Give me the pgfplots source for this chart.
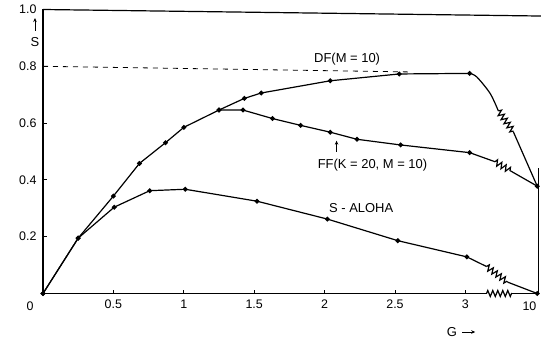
\documentclass[border=0pt]{standalone}
\usepackage{pgfplots}
\pgfplotsset{compat=1.18}
\usepackage{fontspec}
\setmainfont{Liberation Sans}
\usetikzlibrary{decorations.pathmorphing,arrows.meta}
\begin{document}
\begin{tikzpicture}
\begin{axis}[
  scale only axis, width=492.8bp, height=284bp,
  xmin=0, xmax=3.5, ymin=0, ymax=1,
  clip=false,
  axis lines*=left,
  x axis line style={draw=none},
  axis line style={line width=1.2bp},
  tick align=inside, major tick length=4bp,
  tick style={line width=0.9bp, black},
  xtick={0.5,1,1.5,2,2.5,3},
  xticklabels={0.5,1,1.5,2,2.5,3},
  ytick={0.2,0.4,0.6,0.8,1.0},
  yticklabels={0.2,0.4,0.6,0.8,1.0},
  /pgf/number format/assume math mode=true,
  ticklabel style={font=\fontsize{12.5}{14}\selectfont},
  xticklabel style={yshift=-3bp},
  yticklabel style={xshift=-3bp},
  every axis plot/.append style={black, line width=1.2bp},
]
% frame pieces
\addplot[no marks] coordinates {(0,1) (3.537,0.977)};
\addplot[no marks] coordinates {(3.52,0) (3.52,0.442)};
% x axis with break
\addplot[no marks] coordinates {(0,0) (3.15,0)};
\addplot[no marks, decorate, decoration={zigzag, amplitude=3bp, segment length=5bp}] coordinates {(3.15,0) (3.33,0)};
\addplot[no marks] coordinates {(3.33,0) (3.52,0)};
% asymptote
\addplot[no marks, line width=0.8bp, dash pattern=on 5bp off 5bp] coordinates {(0,0.8) (2.62,0.78)};
% DF (M=10)
\addplot[mark=*, mark size=1.8bp] coordinates {
 (0,0) (0.25,0.195) (0.5,0.343) (0.685,0.458) (0.87,0.531) (1.0,0.585)
 (1.25,0.646) (1.43,0.687) (1.55,0.706) (2.04,0.749) (2.53,0.773) (3.03,0.775)};
\addplot[no marks, smooth] coordinates {(3.03,0.775) (3.08,0.763) (3.175,0.705) (3.234,0.643)};
\addplot[no marks, decorate, decoration={zigzag, amplitude=3bp, segment length=5bp}] coordinates {(3.234,0.643) (3.34,0.570)};
\addplot[no marks] coordinates {(3.34,0.570) (3.51,0.378)};
% FF (K=20, M=10)
\addplot[mark=*, mark size=1.8bp] coordinates {
 (1.25,0.646) (1.42,0.646) (1.63,0.616) (1.83,0.592) (2.04,0.568) (2.23,0.543) (2.54,0.523) (3.03,0.496)};
\addplot[no marks] coordinates {(3.03,0.496) (3.21,0.464)};
\addplot[no marks, decorate, decoration={zigzag, amplitude=3bp, segment length=5bp}] coordinates {(3.21,0.464) (3.33,0.429)};
\addplot[no marks] coordinates {(3.33,0.429) (3.51,0.378)};
\addplot[only marks, mark=*, mark size=1.8bp] coordinates {(3.51,0.378)};
% S-ALOHA
\addplot[mark=*, mark size=1.8bp] coordinates {
 (0,0) (0.25,0.195) (0.506,0.304) (0.758,0.362) (1.01,0.367) (1.52,0.325) (2.02,0.262) (2.52,0.186) (3.01,0.129)};
\addplot[no marks] coordinates {(3.01,0.129) (3.15,0.095)};
\addplot[no marks, decorate, decoration={zigzag, amplitude=3bp, segment length=5bp}] coordinates {(3.15,0.095) (3.30,0.04)};
\addplot[no marks] coordinates {(3.30,0.04) (3.51,0)};
\addplot[only marks, mark=*, mark size=1.8bp] coordinates {(3.51,0)};
% labels
\node[font=\fontsize{12.5}{14}\selectfont] at (axis cs:-0.092,-0.046) {0};
\node[font=\fontsize{12.5}{14}\selectfont] at (axis cs:3.455,-0.046) {10};
\node[font=\fontsize{13}{15}\selectfont] at (axis cs:2.16,0.826) {DF(M = 10)};
\node[font=\fontsize{13}{15}\selectfont] at (axis cs:2.34,0.452) {FF(K = 20, M = 10)};
\node[font=\fontsize{13}{15}\selectfont] at (axis cs:2.26,0.301) {S - ALOHA};
\draw[line width=0.9bp, -{Stealth[length=4bp,width=3.5bp]}] (axis cs:2.085,0.499) -- (axis cs:2.085,0.538);
\node[font=\fontsize{13}{15}\selectfont] at (axis cs:-0.057,0.886) {S};
\draw[line width=0.9bp, -{Stealth[length=4bp,width=3.5bp]}] (axis cs:-0.057,0.925) -- (axis cs:-0.057,0.97);
\node[font=\fontsize{13}{15}\selectfont] at (axis cs:2.905,-0.1356) {G};
\draw[line width=0.9bp, -{Stealth[length=4bp,width=3.5bp]}] (axis cs:2.976,-0.1356) -- (axis cs:3.07,-0.1356);
\end{axis}
\pgfresetboundingbox
\path[use as bounding box] (-43bp,-45.5bp) rectangle (498bp,293.5bp);
\end{tikzpicture}
\end{document}
